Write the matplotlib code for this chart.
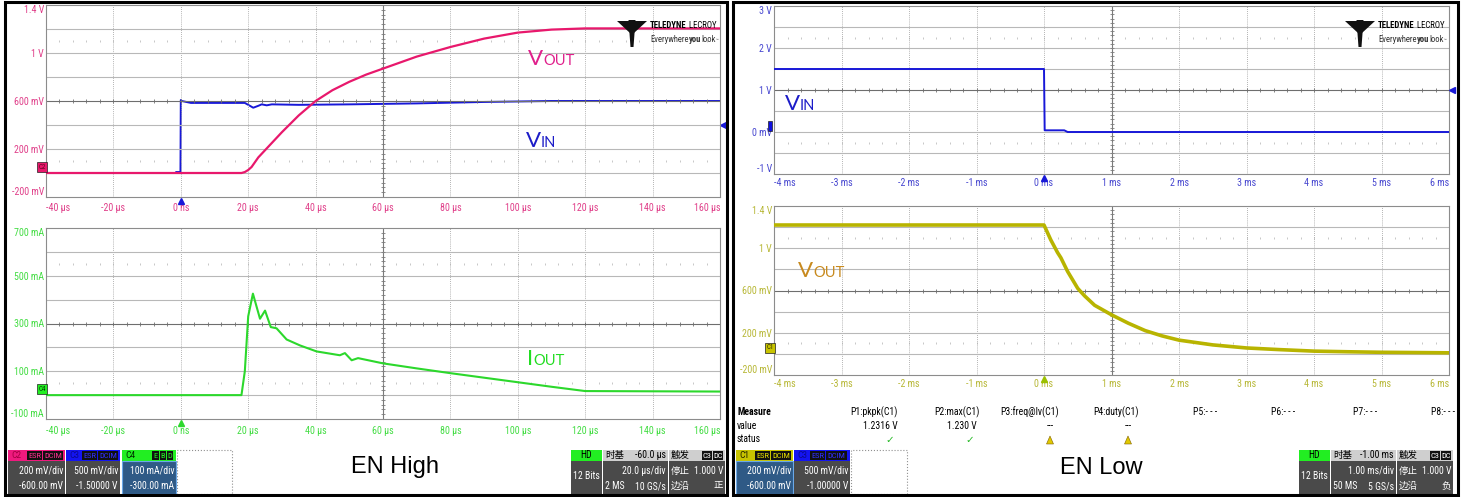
import numpy as np
import matplotlib
matplotlib.use('Agg')
import matplotlib.pyplot as plt
from matplotlib import font_manager
from matplotlib.patches import Rectangle, Polygon
from matplotlib.transforms import offset_copy

# ---- EN High capture (left screen), time in us ----
vout_hi_t = [-40, 18, 19, 20, 21, 22, 23, 25, 27, 30, 35, 40, 45, 50, 55, 60, 70, 80, 90, 100, 110, 120, 160]
vout_hi_v = [0, 0, 0.008, 0.025, 0.05, 0.09, 0.13, 0.19, 0.25, 0.34, 0.48, 0.6, 0.69, 0.76, 0.82, 0.87,
             0.97, 1.05, 1.12, 1.17, 1.195, 1.205, 1.205]

vin_hi_t = [-40, -1.5, -1.4, -0.1, 0, 0.3, 3, 19, 21.5, 23, 24, 25.5, 27, 35, 50, 70, 90, 110, 160]
vin_hi_v = [0, 0, 0.02, 0.02, 1.52, 1.5, 1.46, 1.46, 1.36, 1.40, 1.43, 1.41, 1.43, 1.42, 1.43, 1.45, 1.48, 1.5, 1.5]

iout_hi_t = [-40, 18, 19, 20, 21.4, 22.5, 23.5, 25, 26.7, 28.4, 31.4, 35.4, 40.3, 47.2, 48.7, 50.7, 52.6,
             60, 70, 80, 90, 100, 110, 120, 160]
iout_hi_ma = [0, 0, 100, 330, 425, 370, 320, 354, 285, 280, 233, 208, 183, 167, 176, 146, 155,
              133, 112, 92, 73, 54, 35, 17, 15]

# ---- EN Low capture (right screen), time in ms ----
vin_lo_t = [-4, 0, 0.01, 0.3, 0.35, 6]
vin_lo_v = [1.5, 1.5, 0.04, 0.04, 0.0, 0.0]

vout_lo_t = [-4, 0, 0.1, 0.2, 0.25, 0.35, 0.5, 0.6, 0.75, 1, 1.25, 1.5, 1.75, 2, 2.5, 3, 3.5, 4, 4.5, 5, 6]
vout_lo_v = [1.22, 1.22, 1.08, 0.96, 0.91, 0.78, 0.62, 0.55, 0.46, 0.37, 0.29, 0.22, 0.17, 0.13, 0.085,
             0.056, 0.04, 0.026, 0.02, 0.015, 0.01]

# tick labels
us_labels = ['-40 µs', '-20 µs', '0 ns', '20 µs', '40 µs', '60 µs', '80 µs', '100 µs', '120 µs', '140 µs', '160 µs']
ms_labels = ['-4 ms', '-3 ms', '-2 ms', '-1 ms', '0 ms', '1 ms', '2 ms', '3 ms', '4 ms', '5 ms', '6 ms']
v14_labels = ['-200 mV', '200 mV', '600 mV', '1 V', '1.4 V']
ma_labels = ['-100 mA', '100 mA', '300 mA', '500 mA', '700 mA']
v3_labels = ['-1 V', '0 mV', '1 V', '2 V', '3 V']

# measurements
meas_names = ['P1:pkpk(C1)', 'P2:max(C1)', 'P3:freq@lv(C1)', 'P4:duty(C1)', 'P5:- - -', 'P6:- - -', 'P7:- - -', 'P8:- - -']
meas_values = ['1.2316 V', '1.230 V', '---', '---']

PINK = '#e8186c'
BLUE = '#1818d8'
GREEN = '#2cd82c'
OLIVE = '#b8b400'

names = {f.name for f in font_manager.fontManager.ttflist}
NARROW = 'Liberation Sans'
for cand in ['Liberation Sans Narrow', 'Roboto Condensed', 'Open Sans Condensed', 'DejaVu Sans Condensed']:
    if cand in names:
        NARROW = cand
        break
CJK = ['Noto Sans CJK SC', 'DejaVu Sans']

W, H = 1462, 497
fig = plt.figure(figsize=(W / 100, H / 100), dpi=100)
fig.patch.set_facecolor('white')


def fx(x):
    return x / W


def fy(y):
    return 1 - y / H


def px_axes(x0, y0, x1, y1):
    return fig.add_axes([x0 / W, 1 - y1 / H, (x1 - x0) / W, (y1 - y0) / H])


def scope_axes(box, xlim, ylim, xlabels, ylabels, color, xpad):
    ax = px_axes(*box)
    x0, x1 = xlim
    y0, y1 = ylim
    ax.set_xlim(x0, x1)
    ax.set_ylim(y0, y1)
    dx = (x1 - x0) / 10
    dy = (y1 - y0) / 8
    for k in range(1, 10):
        if k == 5:
            ax.axvline(x0 + k * dx, color='#7a7a7a', lw=0.8, zorder=1)
        else:
            ax.axvline(x0 + k * dx, color='#9a9a9a', lw=0.6, ls=(0, (1, 1.5)), zorder=1)
    for k in range(1, 8):
        c = '#6e6e6e' if k == 4 else '#b8b8b8'
        ax.axhline(y0 + k * dy, color=c, lw=0.8, zorder=1)
    xs = np.arange(x0, x1 + dx / 10, dx / 5)[1:-1]
    ax.plot(xs, np.full(len(xs), y0 + 4 * dy), ls='none', marker='|', ms=3, mew=0.6,
            color='#6e6e6e', zorder=1)
    for yy in (y0 + 1.5 * dy, y1 - 1.5 * dy):
        ax.plot(xs, np.full(len(xs), yy), ls='none', marker='|', ms=2, mew=0.5,
                color='#b0b0b0', zorder=1)
    ys = np.arange(y0, y1 + dy / 10, dy / 5)[1:-1]
    ax.plot(np.full(len(ys), x0 + 5 * dx), ys, ls='none', marker='_', ms=3, mew=0.6,
            color='#7a7a7a', zorder=1)
    ax.set_xticks(np.linspace(x0, x1, 11))
    ax.set_xticklabels(xlabels, fontfamily=NARROW)
    ax.set_yticks(np.linspace(y0, y1, 5))
    ax.set_yticklabels(ylabels, fontfamily=NARROW)
    ax.tick_params(axis='both', length=0, labelsize=7.2, labelcolor=color)
    ax.tick_params(axis='x', pad=xpad)
    ax.tick_params(axis='y', pad=1.5)
    xl = ax.get_xticklabels()
    xl[0].set_ha('left')
    xl[-1].set_ha('right')
    yl = ax.get_yticklabels()
    yl[0].set_va('bottom')
    yl[-1].set_va('top')
    for s in ax.spines.values():
        s.set_color('#8c8c8c')
        s.set_linewidth(0.8)
    return ax


def trig_mark(ax, x, y, color):
    tr = offset_copy(ax.transData, fig=fig, x=0, y=-3.5, units='dots')
    ax.plot([x], [y], marker='^', ms=5, color=color, transform=tr, clip_on=False, zorder=5)


def level_mark(ax, x, y, color):
    tr = offset_copy(ax.transData, fig=fig, x=3, y=0, units='dots')
    ax.plot([x], [y], marker='<', ms=4.5, color=color, transform=tr, clip_on=False, zorder=5)


def chan_mark(ax, y, text, fc, tc):
    ax.annotate(text, xy=(0, y), xycoords=('axes fraction', 'data'), xytext=(-3, 4.3),
                textcoords='offset points', fontsize=5, color=tc, ha='center', va='center',
                fontfamily=NARROW, annotation_clip=False, zorder=6,
                bbox=dict(boxstyle='square,pad=0.2', fc=fc, ec='#202020', lw=0.5))


def seq_text(x, y, parts, size, color='black', family=None, va='center'):
    r = fig.canvas.get_renderer()
    for s, wt, sz in parts:
        t = fig.text(fx(x), fy(y), s, fontsize=size * sz, weight=wt, color=color,
                     family=family or NARROW, va=va)
        x += t.get_window_extent(r).width


def sig_label(x, y, main, sub, color, size):
    seq_text(x, y, [(main, 'normal', 1.0), (sub, 'normal', 0.66)], size, color, 'Lato', 'baseline')


def logo(ox, oy):
    shapes = [[(0, 1), (13, 1), (13, 13)], [(30, 1), (17, 1), (17, 13)],
              [(11.5, 0), (18.5, 0), (16.5, 27), (13.5, 27)]]
    for pts in shapes:
        fig.patches.append(Polygon([(fx(ox + a), fy(oy + b)) for a, b in pts], closed=True,
                                   fc='#111111', ec='none', transform=fig.transFigure))
    seq_text(ox + 33, oy + 5, [('TELEDYNE', 'bold', 1.0), (' LECROY', 'normal', 1.0)], 6.3)
    seq_text(ox + 33, oy + 20, [('Everywhere', 'normal', 1.0), ('you', 'bold', 1.0),
                                ('look', 'normal', 1.0), ('™', 'normal', 0.6)], 6.2, '#333333')


def rect(x0, y0, x1, y1, fc, ec='none', lw=0.6, ls='-'):
    fig.patches.append(Rectangle((fx(x0), fy(y1)), (x1 - x0) / W, (y1 - y0) / H, fc=fc, ec=ec,
                                 lw=lw, ls=ls, transform=fig.transFigure))


def ftext(x, y, s, ha='left', color='white', size=7, family=None, **kw):
    fig.text(fx(x), fy(y), s, ha=ha, va='center', color=color, fontsize=size,
             family=family or NARROW, **kw)


def tags(items, tcolor):
    for x0, x1, s in items:
        rect(x0, 451, x1, 460, '#101010')
        ftext((x0 + x1) / 2, 455.5, s, ha='center', color=tcolor, size=6)


def chan_box(x0, x1, hdr, name, name_col, tag_items, tag_col, l1, l2, selected=False):
    rect(x0, 450, x1, 461, hdr)
    ftext(x0 + 3, 455.5, name, color=name_col, size=6.8)
    tags(tag_items, tag_col)
    if selected:
        rect(x0, 461, x1, 494, '#2f5a86', ec='#6aa8e8', lw=0.8)
    else:
        rect(x0, 461, x1, 494, '#4a4a4a')
    ftext(x1 - 2, 471, l1, ha='right')
    ftext(x1 - 2, 486, l2, ha='right')


def time_boxes(x, tb, tdiv, pts, rate, slope):
    rect(x, 450, x + 31, 461, '#22ee22')
    ftext(x + 15.5, 455.5, 'HD', ha='center', color='black')
    rect(x, 461, x + 31, 494, '#4a4a4a')
    ftext(x + 15.5, 476, '12 Bits', ha='center')
    a = x + 32
    rect(a, 450, a + 65, 461, '#cfcfcf')
    ftext(a + 2, 455.5, '时基', color='black', family=CJK, size=6.8)
    ftext(a + 63, 455.5, tb, ha='right', color='black')
    rect(a, 461, a + 65, 494, '#4a4a4a')
    ftext(a + 63, 471, tdiv, ha='right')
    ftext(a + 2, 486, pts)
    ftext(a + 63, 486, rate, ha='right')
    b = a + 66
    rect(b, 450, b + 56, 461, '#cfcfcf')
    ftext(b + 2, 455.5, '触发', color='black', family=CJK, size=6.8)
    tags([(b + 33, b + 43, 'C3'), (b + 44, b + 54, 'DC')], 'white')
    rect(b, 461, b + 56, 494, '#4a4a4a')
    ftext(b + 2, 471, '停止', family=CJK, size=6.8)
    ftext(b + 54, 471, '1.000 V', ha='right')
    ftext(b + 2, 486, '边沿', family=CJK, size=6.8)
    ftext(b + 54, 486, slope, ha='right', family=CJK, size=6.8)


# ---------------- left screen: EN High ----------------
ax1 = scope_axes((46, 5, 720, 197), (-40, 160), (-0.2, 1.4), us_labels, v14_labels, '#e0408a', 4)
tw1 = ax1.twinx()
tw1.set_ylim(-0.5, 3.5)
tw1.axis('off')
tw1.plot(vin_hi_t, vin_hi_v, color=BLUE, lw=1.4, zorder=3)
ax1.plot(vout_hi_t, vout_hi_v, color=PINK, lw=1.6, zorder=4)
tw1.set_zorder(ax1.get_zorder() - 1)
ax1.patch.set_visible(False)
trig_mark(ax1, 0, -0.2, BLUE)
level_mark(tw1, 160, 1.0, BLUE)
chan_mark(ax1, 0, 'C2', PINK, '#600020')

ax2 = scope_axes((46, 228, 720, 419), (-40, 160), (-100, 700), us_labels, ma_labels, '#44dd44', 5)
ax2.plot(iout_hi_t, iout_hi_ma, color=GREEN, lw=1.5, zorder=3)
trig_mark(ax2, 0, -100, GREEN)
chan_mark(ax2, 0, 'C4', '#22ee22', '#004000')

sig_label(528, 65, 'V', 'OUT', '#e0208c', 16)
sig_label(526, 147, 'V', 'IN', '#1c1cc8', 16)
sig_label(527, 365, 'I', 'OUT', '#22dd22', 16)
logo(617, 20)

# ---------------- right screen: EN Low ----------------
ax3 = scope_axes((774, 6, 1449, 174), (-4, 6), (-1, 3), ms_labels, v3_labels, '#4848d0', 3)
ax3.plot(vin_lo_t, vin_lo_v, color=BLUE, lw=1.4, zorder=3)
trig_mark(ax3, 0, -1, BLUE)
level_mark(ax3, 6, 1.0, BLUE)
chan_mark(ax3, 0, ' ', '#1010e0', '#1010e0')

ax4 = scope_axes((774, 206, 1449, 375), (-4, 6), (-0.2, 1.4), ms_labels, v14_labels, '#b8b838', 3)
ax4.plot(vout_lo_t, vout_lo_v, color=OLIVE, lw=2.6, zorder=3)
trig_mark(ax4, 0, -0.2, '#9cc000')
chan_mark(ax4, 0, 'C1', '#c8c400', '#303000')

sig_label(785, 110, 'V', 'IN', '#1c1cc8', 16)
sig_label(798, 277, 'V', 'OUT', '#c88a1e', 16)
logo(1345, 20)

# measurement table
ftext(737, 412, 'Measure', color='black', size=7, weight='bold')
ftext(737, 426, 'value', color='black', size=7)
ftext(737, 439, 'status', color='black', size=7)
meas_x = [874, 957, 1030, 1116, 1205, 1283, 1365, 1443]
for xc, s in zip(meas_x, meas_names):
    ftext(xc, 412, s, ha='center', color='black', size=7)
for xr, s in zip([898, 977, 1050, 1128], meas_values):
    if s == '---':
        ftext(xr, 426, s, ha='center', color='black', size=7)
    else:
        ftext(xr, 426, s, ha='right', color='black', size=7)
for xc in (890, 970):
    fig.text(fx(xc), fy(440), '✓', color='#22b822', fontsize=7.5, ha='center', va='center',
             family='DejaVu Sans', weight='bold')
for xc in (1050, 1128):
    fig.patches.append(Polygon([(fx(xc - 3.5), fy(444)), (fx(xc + 3.5), fy(444)), (fx(xc), fy(436))],
                               closed=True, fc='#e0c800', ec='#806000', lw=0.4,
                               transform=fig.transFigure))

# footers
chan_box(8, 65, '#ee1a7e', 'C2', '#a00040', [(27, 42, 'ESR'), (43, 63, 'DCIM')], '#ff3090',
         '200 mV/div', '-600.00 mV')
chan_box(66, 120, '#1414f0', 'C3', '#0a0a90', [(82, 97, 'ESR'), (98, 118, 'DCIM')], '#3030ff',
         '500 mV/div', '-1.50000 V')
chan_box(122, 176, '#22ee22', 'C4', '#003000', [(152, 159, 'E'), (159.5, 166, 'B'), (166.5, 173, 'D')],
         '#22ee22', '100 mA/div', '-300.00 mA', selected=True)
rect(177, 450, 232, 494, 'none', ec='#909090', lw=0.8, ls=':')
ftext(395, 467, 'EN High', ha='center', color='black', size=17, family='Liberation Sans')
time_boxes(571, '-60.0 µs', '20.0 µs/div', '2 MS', '10 GS/s', '正')

chan_box(736, 793, '#c8c400', 'C1', '#202000', [(755, 770, 'ESR'), (771, 791, 'DCIM')], '#e8e000',
         '200 mV/div', '-600.00 mV', selected=True)
chan_box(794, 850, '#1414f0', 'C3', '#0a0a90', [(810, 825, 'ESR'), (826, 847, 'DCIM')], '#3030ff',
         '500 mV/div', '-1.00000 V')
rect(851, 450, 907, 494, 'none', ec='#909090', lw=0.8, ls=':')
ftext(1101, 468, 'EN Low', ha='center', color='black', size=17, family='Liberation Sans')
time_boxes(1299, '-1.00 ms', '1.00 ms/div', '50 MS', '5 GS/s', '负')

# screen frames
rect(5, 1.5, 727, 495, 'none', ec='black', lw=2.2)
rect(733, 1.5, 1458, 495, 'none', ec='black', lw=2.2)

fig.savefig('out.png', dpi=100)
